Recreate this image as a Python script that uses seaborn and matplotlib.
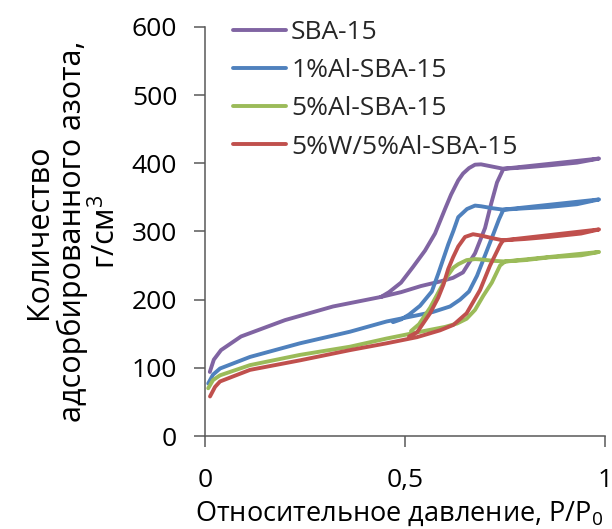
import numpy as np
import pandas as pd
import matplotlib
matplotlib.use("Agg")
import matplotlib.pyplot as plt
import seaborn as sns

# Nitrogen adsorption/desorption isotherms (adsorption branch, then desorption branch)
sba_ads_x = [0.012, 0.022, 0.04, 0.09, 0.2, 0.32, 0.44, 0.49, 0.54, 0.59, 0.62, 0.645, 0.675, 0.70, 0.715, 0.73, 0.746, 0.80, 0.86, 0.93, 0.985]
sba_ads_y = [94, 112, 126, 146, 170, 190, 204, 211, 220, 227, 232, 240, 268, 305, 340, 372, 392, 394, 397, 401, 407]
sba_des_x = [0.746, 0.72, 0.69, 0.675, 0.66, 0.645, 0.633, 0.615, 0.6, 0.575, 0.55, 0.52, 0.49, 0.46, 0.44]
sba_des_y = [392, 395, 398.5, 398, 393, 385, 375, 354, 333, 297, 272, 248, 225, 211, 204]

al1_ads_x = [0.008, 0.02, 0.0375, 0.1125, 0.2375, 0.3625, 0.454, 0.53, 0.57, 0.6125, 0.6375, 0.66, 0.68, 0.70, 0.72, 0.735, 0.746, 0.80, 0.86, 0.93, 0.985]
al1_ads_y = [77, 90, 99, 116, 136, 153, 168, 177, 182, 190, 200, 212, 235, 265, 295, 318, 332, 334, 336, 340, 347]
al1_des_x = [0.746, 0.72, 0.69, 0.675, 0.655, 0.633, 0.621, 0.608, 0.583, 0.567, 0.5375, 0.51, 0.49, 0.47]
al1_des_y = [332, 334, 337, 338, 333, 321, 301, 281, 238, 212, 191, 178, 171, 167]

al5_ads_x = [0.008, 0.02, 0.0375, 0.1125, 0.2375, 0.3625, 0.454, 0.53, 0.6, 0.63, 0.654, 0.675, 0.696, 0.717, 0.7375, 0.75, 0.80, 0.86, 0.94, 0.985]
al5_ads_y = [70, 82, 89, 104, 119, 131, 143, 152, 160, 165, 172, 185, 206, 225, 250, 256, 258, 262, 265, 270]
al5_des_x = [0.75, 0.72, 0.69, 0.675, 0.654, 0.633, 0.621, 0.604, 0.5625, 0.535, 0.515]
al5_des_y = [256, 257, 259, 259.5, 258, 252, 247, 233, 188, 164, 154]

w5_ads_x = [0.0125, 0.025, 0.0375, 0.1125, 0.2375, 0.3625, 0.454, 0.53, 0.5875, 0.621, 0.654, 0.6875, 0.70, 0.7125, 0.7375, 0.745, 0.80, 0.86, 0.94, 0.985]
w5_ads_y = [58, 72, 80, 97, 111, 126, 136, 145, 155, 163, 180, 214, 232, 250, 280, 287, 289, 292, 297, 303]
w5_des_x = [0.745, 0.72, 0.69, 0.67, 0.65, 0.633, 0.62, 0.608, 0.596, 0.583, 0.5625, 0.53, 0.51]
w5_des_y = [287, 290, 294, 296, 292, 278, 262, 245, 222, 203, 180, 152, 146]

series_names = ["SBA-15", "1%Al-SBA-15", "5%Al-SBA-15", "5%W/5%Al-SBA-15"]
series_x = [sba_ads_x + sba_des_x, al1_ads_x + al1_des_x, al5_ads_x + al5_des_x, w5_ads_x + w5_des_x]
series_y = [sba_ads_y + sba_des_y, al1_ads_y + al1_des_y, al5_ads_y + al5_des_y, w5_ads_y + w5_des_y]
colors = ["#8064A2", "#4F81BD", "#9BBB59", "#C0504D"]

x_ticks = [0, 0.5, 1]
x_tick_labels = ["0", "0,5", "1"]
y_ticks = [0, 100, 200, 300, 400, 500, 600]

frames = []
for name, xs, ys in zip(series_names, series_x, series_y):
    frames.append(pd.DataFrame({"p": xs, "v": ys, "sample": name, "step": np.arange(len(xs))}))
df = pd.concat(frames, ignore_index=True)

sns.set_theme(style="white")
plt.rcParams["font.family"] = ["Open Sans", "DejaVu Sans"]
plt.rcParams["mathtext.default"] = "regular"

fig = plt.figure(figsize=(6.12, 5.29), dpi=100)
ax = fig.add_axes([0.335, 0.1758, 0.6536, 0.7732])

sns.lineplot(data=df, x="p", y="v", hue="sample", hue_order=series_names,
             palette=colors, sort=False, estimator=None, units="sample",
             linewidth=2.8, ax=ax, legend=True)

ax.set_xlim(0, 1)
ax.set_ylim(0, 600)
ax.set_xticks(x_ticks)
ax.set_xticklabels(x_tick_labels)
ax.set_yticks(y_ticks)

for side in ["top", "right"]:
    ax.spines[side].set_visible(False)
for side in ["left", "bottom"]:
    ax.spines[side].set_color("#595959")
    ax.spines[side].set_linewidth(1.1)

ax.tick_params(axis="both", which="major", direction="out", length=8, width=1.1,
               color="#595959", labelsize=19, labelcolor="black")
ax.tick_params(axis="y", left=True, pad=12)
ax.tick_params(axis="x", bottom=True, pad=15)

ax.set_xlabel("Относительное давление, P/P$_0$", fontsize=19.5, labelpad=4, color="black")
ax.xaxis.set_label_coords(0.485, -0.155)
ax.set_ylabel("Количество\nадсорбированного азота,\nг/см$^3$", fontsize=22,
              labelpad=7, color="black", linespacing=1.08)

leg = ax.legend(loc="upper left", bbox_to_anchor=(0.07, 1.017), frameon=False,
                fontsize=19, handlelength=2.0, handletextpad=0.2,
                labelspacing=0.5, borderpad=0, borderaxespad=0)
for line in leg.get_lines():
    line.set_linewidth(2.8)

fig.savefig("out.png", dpi=100)
